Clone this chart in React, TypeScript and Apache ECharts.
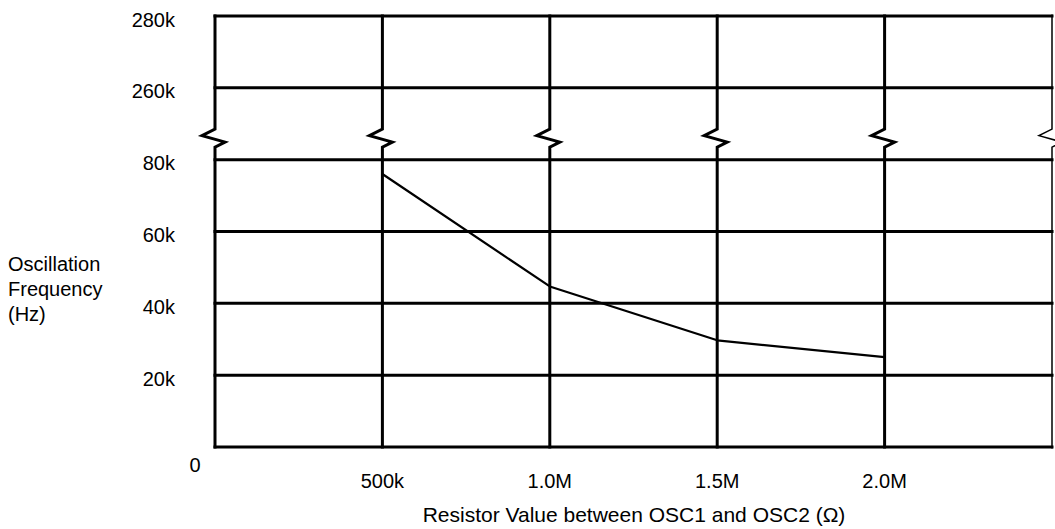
import React, { useEffect, useRef } from "react";
import * as echarts from "echarts";

// Data
const resistorOhm = [500000, 1000000, 1500000, 2000000];
const freqHz = [76000, 44700, 29700, 25000];

// Axis ticks
const xTicks = [0, 500000, 1000000, 1500000, 2000000, 2500000];
const xTickLabels = ["", "500k", "1.0M", "1.5M", "2.0M", ""];
const yTickSteps = [0, 1, 2, 3, 4, 5, 6];
const yTickLabels = ["", "20k", "40k", "60k", "80k", "260k", "280k"];
const breakStep = 4.3;

const FONT = "'Liberation Sans', Arial, Helvetica, sans-serif";
const FS = 20;

// broken-axis scale: 0..80k linear (20k per step), then 260k..280k
function toStep(v: number): number {
  if (v <= 80000) return v / 20000;
  return 5 + (v - 260000) / 20000;
}

export default function App() {
  const ref = useRef<HTMLDivElement>(null);

  useEffect(() => {
    if (!ref.current) return;
    const chart = echarts.init(ref.current, null, { renderer: "svg" });
    const xMax = xTicks[xTicks.length - 1];
    const yMax = yTickSteps[yTickSteps.length - 1];

    chart.setOption({
      animation: false,
      backgroundColor: "#fff",
      grid: { left: 215, right: 1, top: 16, bottom: 82 },
      xAxis: {
        type: "value",
        min: 0,
        max: xMax,
        interval: 500000,
        axisLine: { show: false },
        axisTick: { show: false },
        splitLine: { show: false },
        axisLabel: {
          margin: 24,
          color: "#000",
          fontFamily: FONT,
          fontSize: FS,
          formatter: (v: number) => {
            const i = xTicks.indexOf(v);
            return i >= 0 ? xTickLabels[i] : "";
          },
        },
      },
      yAxis: {
        type: "value",
        min: 0,
        max: yMax,
        interval: 1,
        axisLine: { show: false },
        axisTick: { show: false },
        splitLine: { show: false },
        axisLabel: {
          margin: 40,
          color: "#000",
          fontFamily: FONT,
          fontSize: FS,
          formatter: (v: number) => {
            const i = yTickSteps.indexOf(v);
            const t = i >= 0 ? yTickLabels[i] : "";
            return t ? `{a|${t}}` : "";
          },
          rich: {
            a: {
              fontFamily: FONT,
              fontSize: FS,
              color: "#000",
              padding: [7, 0, 0, 0],
            },
          },
        },
      },
      graphic: [
        {
          type: "text",
          x: 195,
          y: 465,
          style: {
            text: "0",
            fill: "#000",
            font: `${FS}px ${FONT}`,
            align: "center",
            verticalAlign: "middle",
          },
        },
        {
          type: "text",
          x: 8,
          y: 251,
          style: {
            text: "Oscillation\nFrequency\n(Hz)",
            fill: "#000",
            font: `${FS}px ${FONT}`,
            lineHeight: 25,
            align: "left",
            verticalAlign: "top",
          },
        },
        {
          type: "text",
          x: 634,
          y: 514,
          style: {
            text: "Resistor Value between OSC1 and OSC2 (\u03A9)",
            fill: "#000",
            font: `21px ${FONT}`,
            align: "center",
            verticalAlign: "middle",
          },
        },
      ],
      series: [
        {
          type: "custom",
          name: "hgrid",
          silent: true,
          data: yTickSteps.map((s) => [0, s]),
          encode: { x: 0, y: 1 },
          renderItem: (params: any, api: any) => {
            const s = api.value(1);
            const p1 = api.coord([0, s]);
            const p2 = api.coord([xMax, s]);
            return {
              type: "line",
              shape: { x1: p1[0], y1: p1[1], x2: p2[0], y2: p2[1] },
              style: { stroke: "#000", lineWidth: 3, lineCap: "square" },
            };
          },
          z: 1,
        },
        {
          type: "custom",
          name: "vgrid",
          silent: true,
          data: xTicks.map((x) => [x, 0]),
          encode: { x: 0, y: 1 },
          renderItem: (params: any, api: any) => {
            const xv = api.value(0);
            const top = api.coord([xv, yMax]);
            const bot = api.coord([xv, 0]);
            const b = api.coord([xv, breakStep]);
            const x = top[0];
            const by = b[1];
            const isRight = xv === xMax;
            return {
              type: "polyline",
              shape: {
                points: [
                  [x, top[1] - 1.5],
                  [x, by - 9],
                  [x - 13, by - 2.5],
                  [x + 10, by + 4],
                  [x, by + 9],
                  [x, bot[1] + 1.5],
                ],
              },
              style: {
                stroke: "#000",
                lineWidth: isRight ? 1.5 : 3,
                fill: null,
                lineJoin: "miter",
              },
            };
          },
          z: 1,
        },
        {
          type: "line",
          name: "Frequency",
          data: resistorOhm.map((r, i) => [r, toStep(freqHz[i])]),
          showSymbol: false,
          symbol: "none",
          lineStyle: { color: "#000", width: 2.2 },
          z: 3,
        },
      ],
    });

    return () => chart.dispose();
  }, []);

  return (
    <div
      ref={ref}
      style={{ position: "absolute", left: 0, top: 0, width: 1055, height: 529 }}
    />
  );
}
